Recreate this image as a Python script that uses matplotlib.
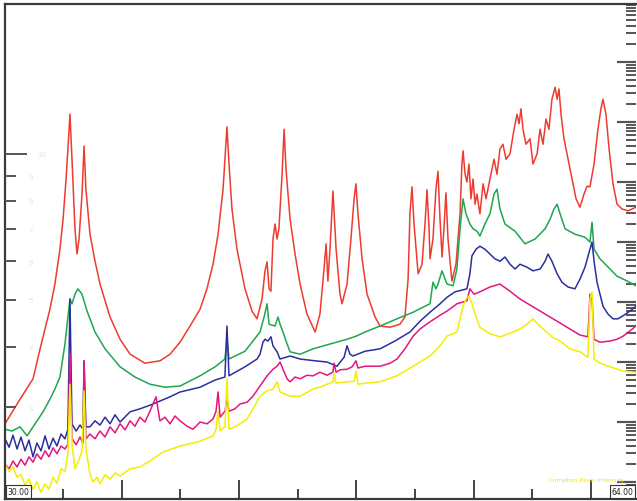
import numpy as np
import matplotlib
matplotlib.use("Agg")
import matplotlib.pyplot as plt

# x: energy axis (30.00 .. 64.00), y: log10 counts
red_x = [30.00, 30.81, 31.51, 31.89, 32.42, 32.69, 32.96, 33.13, 33.29, 33.39,
         33.50, 33.61, 33.77, 33.88, 33.99, 34.15, 34.26, 34.36, 34.58, 34.85,
         35.12, 35.66, 36.20, 36.74, 37.54, 38.35, 38.89, 39.43, 39.97, 40.51,
         40.88, 41.21, 41.48, 41.75, 41.85, 41.96, 42.07, 42.23, 42.50, 42.93,
         43.31, 43.58, 43.85, 44.01, 44.12, 44.23, 44.33, 44.44, 44.55, 44.66,
         44.76, 44.93, 45.04, 45.14, 45.36, 45.63, 45.90, 46.27, 46.71, 46.97,
         47.19, 47.30, 47.40, 47.51, 47.67, 47.84, 48.05, 48.16, 48.43, 48.64,
         48.81, 48.91, 49.02, 49.24, 49.51, 49.94, 50.21, 50.75, 51.28, 51.55,
         51.72, 51.82, 51.93, 52.04, 52.26, 52.47, 52.63, 52.74, 52.85, 52.90,
         53.06, 53.22, 53.33, 53.44, 53.55, 53.65, 53.76, 53.87, 54.08, 54.30,
         54.52, 54.62, 54.68, 54.79, 54.89, 55.00, 55.11, 55.22, 55.33, 55.43,
         55.59, 55.76, 55.92, 56.13, 56.35, 56.51, 56.67, 56.83, 57.00, 57.21,
         57.43, 57.59, 57.70, 57.80, 57.91, 58.07, 58.29, 58.45, 58.67, 58.83,
         58.99, 59.15, 59.31, 59.47, 59.64, 59.75, 59.85, 59.96, 60.12, 60.34,
         60.55, 60.77, 60.98, 61.20, 61.36, 61.52, 61.74, 61.95, 62.11, 62.22,
         62.38, 62.55, 62.76, 62.98, 63.25, 63.57, 64.00]
red_y = [0.97, 1.38, 1.72, 2.22, 2.88, 3.30, 3.88, 4.38, 5.05, 5.55,
         6.13, 5.38, 4.22, 3.80, 4.05, 4.80, 5.60, 4.88, 4.13, 3.68,
         3.30, 2.75, 2.38, 2.13, 1.98, 2.02, 2.13, 2.33, 2.60, 2.88,
         3.22, 3.63, 4.13, 4.88, 5.38, 5.92, 5.30, 4.55, 3.88, 3.22,
         2.85, 2.72, 3.05, 3.52, 3.67, 3.22, 3.18, 4.05, 4.30, 4.05,
         4.22, 5.13, 5.88, 5.22, 4.38, 3.80, 3.30, 2.80, 2.50, 2.80,
         3.55, 3.97, 3.35, 3.88, 4.85, 3.88, 3.13, 2.97, 3.30, 4.05,
         4.72, 4.97, 4.47, 3.72, 3.13, 2.75, 2.60, 2.58, 2.63, 2.75,
         3.38, 4.47, 4.92, 4.30, 3.47, 3.63, 4.30, 4.87, 4.22, 3.72,
         4.05, 4.88, 5.18, 4.38, 3.75, 4.22, 4.82, 4.05, 3.35, 3.63,
         4.47, 5.30, 5.52, 5.13, 5.00, 5.30, 4.72, 5.05, 4.63, 4.80,
         4.47, 4.97, 4.72, 5.05, 5.38, 5.13, 5.55, 5.63, 5.38, 5.47,
         5.88, 6.13, 5.97, 6.22, 5.88, 5.63, 5.72, 5.30, 5.47, 5.88,
         5.63, 6.05, 5.88, 6.38, 6.58, 6.38, 6.55, 6.13, 5.72, 5.38,
         5.05, 4.72, 4.58, 4.80, 4.93, 4.92, 5.30, 5.88, 6.22, 6.38,
         6.13, 5.55, 4.97, 4.63, 4.55, 4.52, 4.58]

green_x = [30.00, 30.38, 30.81, 31.19, 31.62, 32.05, 32.42, 32.69, 32.96, 33.23,
           33.39, 33.50, 33.61, 33.77, 33.93, 34.15, 34.42, 34.85, 35.39, 36.20,
           37.00, 37.81, 38.62, 39.43, 40.51, 41.32, 41.85, 41.96, 42.07, 42.93,
           43.74, 43.96, 44.12, 44.23, 44.55, 44.71, 44.82, 44.98, 45.20, 45.36,
           45.90, 46.60, 47.51, 48.43, 48.91, 49.40, 50.21, 51.12, 51.99, 52.63,
           52.90, 53.06, 53.22, 53.33, 53.55, 53.71, 53.82, 54.14, 54.35, 54.52,
           54.68, 54.84, 55.05, 55.22, 55.43, 55.59, 55.86, 56.13, 56.35, 56.51,
           56.67, 56.94, 57.48, 58.02, 58.56, 59.10, 59.37, 59.58, 59.75, 59.91,
           60.18, 60.71, 61.25, 61.52, 61.63, 61.74, 62.06, 62.60, 62.98, 63.52,
           64.00]
green_y = [0.88, 0.85, 0.92, 0.77, 0.97, 1.17, 1.38, 1.55, 1.75, 2.30,
           2.75, 3.05, 2.97, 3.13, 3.22, 3.13, 2.85, 2.50, 2.22, 1.92,
           1.75, 1.63, 1.58, 1.60, 1.77, 1.92, 2.05, 2.38, 2.05, 2.18,
           2.50, 2.75, 2.97, 2.63, 2.60, 2.75, 2.63, 2.50, 2.30, 2.17,
           2.13, 2.22, 2.30, 2.38, 2.43, 2.50, 2.60, 2.72, 2.83, 2.93,
           2.97, 3.33, 3.22, 3.30, 3.52, 3.38, 3.30, 3.27, 3.55, 4.22,
           4.72, 4.47, 4.30, 4.22, 4.18, 4.10, 4.30, 4.47, 4.80, 4.88,
           4.55, 4.30, 4.18, 3.97, 4.05, 4.22, 4.38, 4.55, 4.63, 4.47,
           4.22, 4.13, 4.08, 4.00, 4.33, 3.88, 3.72, 3.55, 3.43, 3.35,
           3.27]

blue_x = [30.00, 30.22, 30.43, 30.65, 30.86, 31.08, 31.29, 31.51, 31.72, 31.94,
          32.16, 32.37, 32.59, 32.80, 33.02, 33.23, 33.39, 33.50, 33.61, 33.83,
          34.04, 34.20, 34.26, 34.36, 34.58, 34.85, 35.12, 35.39, 35.66, 35.93,
          36.20, 36.74, 37.27, 37.81, 38.35, 38.89, 39.43, 40.51, 41.32, 41.85,
          41.96, 42.07, 42.93, 43.58, 43.74, 43.90, 44.01, 44.17, 44.33, 44.44,
          44.66, 44.82, 45.36, 45.90, 46.71, 47.35, 47.89, 48.27, 48.43, 48.59,
          48.75, 49.40, 50.21, 51.01, 51.82, 52.36, 52.90, 53.44, 53.82, 54.25,
          54.89, 55.05, 55.16, 55.38, 55.59, 55.86, 56.13, 56.40, 56.67, 56.94,
          57.21, 57.48, 57.75, 58.13, 58.45, 58.83, 59.10, 59.26, 59.47, 59.75,
          60.01, 60.34, 60.71, 60.98, 61.25, 61.52, 61.63, 61.74, 61.90, 62.22,
          62.49, 62.76, 63.03, 63.30, 63.68, 64.00]
blue_y = [0.72, 0.58, 0.78, 0.55, 0.75, 0.52, 0.70, 0.42, 0.65, 0.52,
          0.77, 0.55, 0.73, 0.60, 0.80, 0.72, 0.88, 3.05, 0.97, 0.85,
          0.95, 0.88, 2.02, 0.92, 0.92, 1.02, 0.95, 1.08, 0.97, 1.12,
          1.00, 1.17, 1.22, 1.28, 1.35, 1.42, 1.50, 1.58, 1.70, 1.75,
          2.60, 1.77, 1.92, 2.05, 2.13, 2.33, 2.38, 2.35, 2.42, 2.27,
          2.17, 2.05, 2.10, 2.05, 2.02, 2.00, 1.93, 2.08, 2.27, 2.13,
          2.10, 2.18, 2.22, 2.35, 2.50, 2.68, 2.83, 2.97, 3.08, 3.17,
          3.22, 3.47, 3.77, 3.88, 3.93, 3.88, 3.80, 3.72, 3.68, 3.75,
          3.63, 3.55, 3.63, 3.58, 3.52, 3.55, 3.68, 3.80, 3.68, 3.47,
          3.33, 3.25, 3.22, 3.38, 3.58, 3.88, 4.00, 3.68, 3.33, 2.93,
          2.80, 2.72, 2.72, 2.77, 2.85, 2.93]

magenta_x = [30.00, 30.22, 30.43, 30.65, 30.86, 31.08, 31.29, 31.51, 31.72, 31.94,
             32.16, 32.37, 32.59, 32.80, 33.02, 33.23, 33.39, 33.50, 33.61, 33.83,
             34.04, 34.20, 34.26, 34.36, 34.58, 34.85, 35.12, 35.39, 35.66, 35.93,
             36.20, 36.47, 36.74, 37.00, 37.27, 37.54, 37.81, 37.97, 38.14, 38.24,
             38.35, 38.62, 38.89, 39.16, 39.43, 39.81, 40.13, 40.51, 40.88, 41.21,
             41.37, 41.48, 41.59, 41.85, 41.96, 42.07, 42.39, 42.66, 43.04, 43.36,
             43.74, 44.12, 44.44, 44.66, 44.82, 44.98, 45.20, 45.36, 45.63, 45.90,
             46.27, 46.60, 46.97, 47.35, 47.67, 47.73, 47.84, 48.05, 48.43, 48.70,
             48.91, 49.02, 49.40, 50.21, 50.75, 51.12, 51.55, 51.99, 52.36, 52.90,
             53.44, 53.82, 54.35, 54.89, 55.05, 55.27, 55.59, 56.13, 56.67, 57.21,
             57.75, 58.29, 58.83, 59.37, 59.91, 60.44, 60.98, 61.41, 61.52, 61.63,
             61.74, 62.06, 62.60, 62.98, 63.30, 63.68, 64.00]
magenta_y = [0.30, 0.22, 0.35, 0.25, 0.38, 0.28, 0.42, 0.33, 0.47, 0.38,
             0.52, 0.42, 0.57, 0.47, 0.60, 0.55, 0.63, 2.13, 0.72, 0.62,
             0.75, 0.65, 2.02, 0.72, 0.80, 0.72, 0.85, 0.75, 0.92, 0.82,
             0.97, 0.87, 1.02, 0.93, 1.08, 1.00, 1.18, 1.30, 1.42, 1.22,
             1.02, 1.08, 0.97, 1.10, 1.02, 0.93, 0.88, 1.00, 0.97, 1.05,
             1.18, 1.50, 1.08, 1.18, 1.38, 1.18, 1.22, 1.30, 1.33, 1.43,
             1.60, 1.77, 1.88, 1.93, 2.00, 1.88, 1.72, 1.67, 1.75, 1.72,
             1.78, 1.77, 1.83, 1.78, 1.83, 1.98, 1.83, 1.87, 1.88, 1.92,
             2.02, 1.90, 1.93, 1.93, 1.98, 2.05, 2.22, 2.43, 2.55, 2.67,
             2.78, 2.85, 2.97, 3.02, 3.22, 3.13, 3.17, 3.25, 3.30, 3.18,
             3.05, 2.95, 2.85, 2.75, 2.65, 2.55, 2.45, 2.42, 3.13, 3.05,
             2.38, 2.33, 2.35, 2.38, 2.43, 2.52, 2.60]

yellow_x = [30.00, 30.22, 30.43, 30.65, 30.86, 31.08, 31.29, 31.51, 31.72, 31.94,
            32.16, 32.37, 32.59, 32.80, 33.02, 33.23, 33.39, 33.50, 33.61, 33.77,
            33.99, 34.15, 34.26, 34.36, 34.58, 34.74, 34.96, 35.12, 35.39, 35.66,
            35.93, 36.20, 36.74, 37.27, 37.81, 38.51, 39.43, 40.51, 41.21, 41.37,
            41.48, 41.59, 41.85, 41.96, 42.07, 42.39, 42.66, 43.04, 43.36, 43.74,
            44.12, 44.44, 44.66, 44.82, 45.36, 45.90, 46.60, 46.97, 47.67, 47.73,
            47.84, 48.43, 48.81, 48.91, 49.02, 49.51, 50.21, 51.12, 51.99, 52.90,
            53.44, 53.82, 54.35, 54.52, 54.68, 54.84, 55.00, 55.16, 55.38, 55.59,
            56.13, 56.67, 57.21, 57.75, 58.13, 58.45, 58.72, 59.10, 59.47, 59.91,
            60.44, 60.98, 61.41, 61.52, 61.63, 61.74, 62.06, 62.60, 63.30, 64.00]
yellow_y = [0.30, 0.18, 0.25, 0.08, 0.13, -0.05, 0.05, -0.12, 0.00, -0.17,
            -0.03, -0.12, 0.08, -0.02, 0.22, 0.18, 0.47, 1.63, 0.63, 0.22,
            0.38, 0.52, 1.52, 0.55, 0.13, 0.00, 0.08, -0.03, 0.12, 0.05,
            0.15, 0.10, 0.22, 0.25, 0.35, 0.50, 0.60, 0.68, 0.77, 0.88,
            1.17, 0.85, 0.92, 1.72, 0.88, 0.92, 0.97, 1.05, 1.22, 1.43,
            1.52, 1.55, 1.67, 1.50, 1.43, 1.43, 1.55, 1.58, 1.67, 1.80,
            1.65, 1.67, 1.68, 1.85, 1.63, 1.65, 1.67, 1.77, 1.93, 2.10,
            2.27, 2.43, 2.50, 2.72, 2.93, 3.05, 3.10, 2.97, 2.75, 2.58,
            2.47, 2.42, 2.48, 2.55, 2.63, 2.72, 2.63, 2.52, 2.42, 2.35,
            2.22, 2.17, 2.08, 3.05, 3.17, 2.05, 1.98, 1.92, 1.85, 1.83]

series = [
    (red_x, red_y, "#ee3b30"),
    (green_x, green_y, "#1ea650"),
    (blue_x, blue_y, "#2b2f9e"),
    (magenta_x, magenta_y, "#e4167f"),
    (yellow_x, yellow_y, "#f4ee00"),
]

# bottom ruler ticks, alternating long / short
x_long = [36.29, 42.61, 48.93, 55.26, 61.58]
x_short = [33.13, 39.45, 45.77, 52.10, 58.42]
# left reference scale
left_minor = [3, 4, 5, 6, 7, 8, 9]
left_major = [10]

fig = plt.figure(figsize=(6.37, 5.02), dpi=100)
ax = fig.add_axes([5 / 637, 2 / 502, 631 / 637, 495 / 502])
# secondary log scale drawn on the left edge (twinx moves ax ticks, so set up first)
ax2 = ax.twinx()

for xs, ys, c in series:
    ax.plot(xs, ys, color=c, lw=1.1, solid_joinstyle="round")

ax.set_xlim(30, 64)
ax.set_ylim(-0.283, 7.967)

frame = "#3a3a3a"
for side in ("left", "top", "bottom"):
    ax.spines[side].set_color(frame)
    ax.spines[side].set_linewidth(1.6)
ax.spines["right"].set_visible(False)

# x ruler
ax.set_xticks(x_long)
ax.set_xticks(x_short, minor=True)
ax.tick_params(axis="x", which="major", direction="in", length=13.5, width=1.4,
               color="#444444", labelbottom=False)
ax.tick_params(axis="x", which="minor", direction="in", length=7.5, width=1.4,
               color="#444444")

# log decades on the right edge
ax.set_yticks(np.arange(0, 8))
minor = [n + np.log10(k) for n in range(-1, 8) for k in range(2, 10)]
ax.set_yticks([m for m in minor if -0.28 < m < 7.96], minor=True)
ax.tick_params(axis="y", which="both", left=False, right=True,
               labelleft=False, labelright=False, direction="in")
ax.tick_params(axis="y", which="major", length=13.5, width=1.6, color="#555555")
ax.tick_params(axis="y", which="minor", length=7.0, width=1.4, color="#555555")

ax2.set_yscale("log")
ax2.set_ylim(1.94, 20.4)
for s in ax2.spines.values():
    s.set_visible(False)
ax2.set_yticks(left_major)
ax2.set_yticks(left_minor, minor=True)
ax2.set_yticklabels(["10"])
ax2.set_yticklabels([str(v) for v in left_minor], minor=True)
ax2.tick_params(axis="y", which="both", left=True, right=False,
                labelleft=True, labelright=False, direction="in",
                color="#555555", labelsize=5, labelcolor="#e4e4e4")
ax2.tick_params(axis="y", which="major", length=16, width=1.4, pad=-30)
ax2.tick_params(axis="y", which="minor", length=8, width=1.4, pad=-20)
ax2.tick_params(axis="x", which="both", bottom=False, top=False)

box = dict(boxstyle="square,pad=0.25", fc="white", ec="#333333", lw=0.8)
ax.text(0.004, 0.006, "30.00", transform=ax.transAxes, fontsize=5.5,
        ha="left", va="bottom", color="#222222", bbox=box, zorder=5)
ax.text(0.996, 0.006, "64.00", transform=ax.transAxes, fontsize=5.5,
        ha="right", va="bottom", color="#222222", bbox=box, zorder=5)
ax.text(0.86, 0.034, "Compton Peak Intensity", transform=ax.transAxes,
        fontsize=4.6, color="#f0e800", ha="left", va="bottom")

fig.savefig("out.png", dpi=100)
